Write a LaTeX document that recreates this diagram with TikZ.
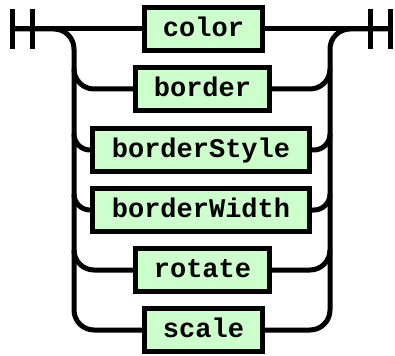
\documentclass[tikz,border=0pt]{standalone}
\usepackage{fontspec}
\setmonofont{Liberation Mono}
\usepackage{xcolor}
\usepackage{tikz}
\usetikzlibrary{positioning,calc}
\definecolor{termfill}{RGB}{204,255,204}
\tikzset{
  term/.style={draw, line width=5pt, fill=termfill, inner sep=0pt,
               font=\ttfamily\bfseries\fontsize{27}{27}\selectfont,
               minimum height=43pt, text height=19pt, text depth=4pt},
  track/.style={line width=5pt},
}

\begin{document}
\begin{tikzpicture}[x=1pt, y=-1pt]
    \useasboundingbox (0,0) rectangle (395,355);
    \node[term, minimum width=118pt] (color)       at (203.5,29) {color};
    \node[term, minimum width=134pt] (border)      at (202.5,89) {border};
    \node[term, minimum width=217pt] (borderStyle) at (201,150)  {borderStyle};
    \node[term, minimum width=217pt] (borderWidth) at (201,210)  {borderWidth};
    \node[term, minimum width=134pt] (rotate)      at (202.5,270) {rotate};
    \node[term, minimum width=118pt] (scale)       at (203.5,330) {scale};
    \coordinate (start) at (12.5,29);
    \coordinate (stop)  at (390,29);
    \coordinate (lt) at (74,0);
    \coordinate (rt) at (330,0);
    \foreach \x in {12.5,32.5,370,390} { \draw[track] (\x,9) -- (\x,49); }
    \draw[track] (start) -- (color.west) (color.east) -- (stop);
    \draw[track, rounded corners=20pt] (start) -| (scale.west -| lt) -- (scale.west);
    \draw[track, rounded corners=20pt] (stop) -| (scale.east -| rt) -- (scale.east);
    \foreach \n/\r in {border/20, borderStyle/16, borderWidth/16, rotate/20} {
      \draw[track, rounded corners=\r pt] ($(\n.west -| lt)+(0,-\r)$) |- (\n.west);
      \draw[track, rounded corners=\r pt] ($(\n.east -| rt)+(0,-\r)$) |- (\n.east);
    }
\end{tikzpicture}
\end{document}
